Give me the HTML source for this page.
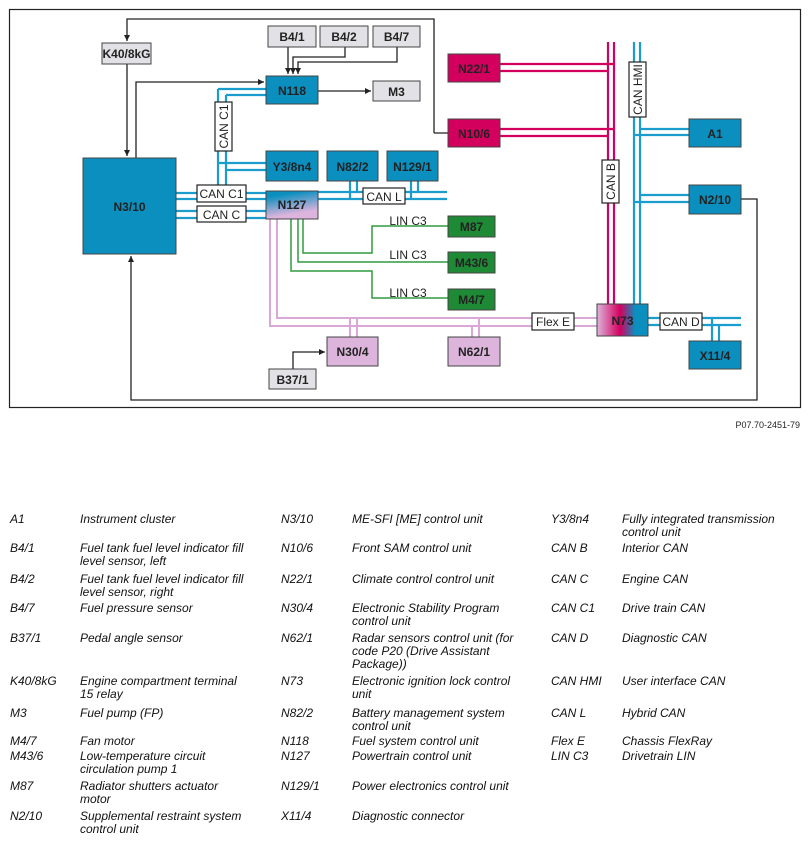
<!DOCTYPE html>
<html><head><meta charset="utf-8"><style>
body{margin:0;width:811px;height:843px;background:#fff;position:relative;font-family:"Liberation Sans",sans-serif;overflow:hidden}
.l{position:absolute;font-size:12px;font-style:italic;line-height:13px;color:#111;white-space:nowrap}
svg{position:absolute;left:0;top:0}
svg text{font-family:"Liberation Sans",sans-serif}
</style></head><body>
<svg width="811" height="440" viewBox="0 0 811 440">
<defs>
<marker id="a" markerWidth="8" markerHeight="8" refX="6" refY="3" orient="auto" markerUnits="userSpaceOnUse"><path d="M0,0 L6,3 L0,6 z" fill="#222"/></marker>
<linearGradient id="g127" x1="0" y1="0" x2="0.3" y2="1"><stop offset="0.2" stop-color="#0a8fbf"/><stop offset="0.9" stop-color="#dcb4dc"/></linearGradient>
<linearGradient id="g73" x1="0" y1="0" x2="1" y2="0"><stop offset="0" stop-color="#dcb4dc"/><stop offset="0.45" stop-color="#d4005e"/><stop offset="0.75" stop-color="#0a8fbf"/><stop offset="1" stop-color="#0a8fbf"/></linearGradient>
</defs>
<rect x="9.5" y="9.5" width="791" height="398" fill="#fff" stroke="#222" stroke-width="1.2"/>
<g fill="none" stroke="#d9a8d9" stroke-width="2">
<path d="M270 219V326H597M277 219V318H597"/>
<path d="M350 318V337M357 318V337M472 326V337M479 318V337"/>
</g>
<g fill="none" stroke="#2e9b3e" stroke-width="1.5">
<path d="M303 219V253H372V226H448"/>
<path d="M298 219V262H448"/>
<path d="M291 219V271H372V298H448"/>
</g>
<g fill="none" stroke="#d4005e" stroke-width="2.2">
<path d="M608 42V304M614 42V304"/>
<path d="M500 64H614M500 71H608M500 129H614M500 136H608"/>
</g>
<g fill="none" stroke="#1a9ccc" stroke-width="2.2">
<path d="M634 42V304M640 42V304"/>
<path d="M640 129H689M634 135H689M640 195H689M634 202H689"/>
<path d="M648 318H741M648 325H741M712 318V341M719 325V341"/>
<path d="M176 193H266M176 199H266M176 211H266M176 218H266"/>
<path d="M318 192H447M318 199H447"/>
<path d="M350 181V199M357 181V192M411 181V199M418 181V192"/>
<path d="M218 89V193M226 95V199M218 89H266M226 95H266M218 163H266M226 170H266"/>
</g>
<g fill="none" stroke="#222" stroke-width="1.3">
<path d="M434 133H448M434 133V19H127V41" marker-end="url(#a)"/>
<path d="M127 64V156" marker-end="url(#a)"/>
<path d="M136 158V82H264" marker-end="url(#a)"/>
<path d="M288 47V74" marker-end="url(#a)"/>
<path d="M345 47V57H293V74" marker-end="url(#a)"/>
<path d="M397 47V62H298V74" marker-end="url(#a)"/>
<path d="M318 91H371" marker-end="url(#a)"/>
<path d="M741 199H757V400H131V256" marker-end="url(#a)"/>
<path d="M293 369V352H325" marker-end="url(#a)"/>
</g>
<g stroke="#444" stroke-width="1" font-weight="bold" font-size="12" text-anchor="middle">
<rect x="102" y="43" width="49" height="21" fill="#e2e2e6"/><text x="126.5" y="58" stroke="none" fill="#222">K40/8kG</text>
<rect x="268" y="26" width="48" height="21" fill="#e2e2e6"/><text x="292" y="41" stroke="none" fill="#222">B4/1</text>
<rect x="320" y="26" width="48" height="21" fill="#e2e2e6"/><text x="344" y="41" stroke="none" fill="#222">B4/2</text>
<rect x="373" y="26" width="47" height="21" fill="#e2e2e6"/><text x="396.5" y="41" stroke="none" fill="#222">B4/7</text>
<rect x="373" y="81" width="47" height="20" fill="#e2e2e6"/><text x="396.5" y="96" stroke="none" fill="#222">M3</text>
<rect x="269" y="369" width="47" height="20" fill="#e2e2e6"/><text x="292.5" y="384" stroke="none" fill="#222">B37/1</text>
<rect x="266" y="76" width="52" height="28" fill="#0a8fbf"/><text x="292" y="95" stroke="none" fill="#222">N118</text>
<rect x="83" y="158" width="93" height="96" fill="#0a8fbf"/><text x="129.5" y="211" stroke="none" fill="#222">N3/10</text>
<rect x="266" y="151" width="52" height="30" fill="#0a8fbf"/><text x="292" y="171" stroke="none" fill="#222">Y3/8n4</text>
<rect x="327" y="151" width="51" height="30" fill="#0a8fbf"/><text x="352.5" y="171" stroke="none" fill="#222">N82/2</text>
<rect x="387" y="151" width="51" height="30" fill="#0a8fbf"/><text x="412.5" y="171" stroke="none" fill="#222">N129/1</text>
<rect x="266" y="191" width="52" height="28" fill="url(#g127)"/><text x="292" y="209" stroke="none" fill="#222">N127</text>
<rect x="448" y="54" width="52" height="28" fill="#d4005e"/><text x="474" y="73" stroke="none" fill="#222">N22/1</text>
<rect x="448" y="119" width="52" height="28" fill="#d4005e"/><text x="474" y="138" stroke="none" fill="#222">N10/6</text>
<rect x="689" y="119" width="52" height="28" fill="#0a8fbf"/><text x="715" y="138" stroke="none" fill="#222">A1</text>
<rect x="689" y="185" width="52" height="29" fill="#0a8fbf"/><text x="715" y="204" stroke="none" fill="#222">N2/10</text>
<rect x="689" y="341" width="52" height="28" fill="#0a8fbf"/><text x="715" y="360" stroke="none" fill="#222">X11/4</text>
<rect x="597" y="304" width="51" height="32" fill="url(#g73)"/><text x="622.5" y="325" stroke="none" fill="#222">N73</text>
<rect x="448" y="216" width="47" height="21" fill="#1f8a35"/><text x="471.5" y="231" stroke="none" fill="#222">M87</text>
<rect x="448" y="252" width="47" height="21" fill="#1f8a35"/><text x="471.5" y="267" stroke="none" fill="#222">M43/6</text>
<rect x="448" y="289" width="47" height="21" fill="#1f8a35"/><text x="471.5" y="304" stroke="none" fill="#222">M4/7</text>
<rect x="327" y="337" width="51" height="29" fill="#dcb4dc"/><text x="352.5" y="356" stroke="none" fill="#222">N30/4</text>
<rect x="448" y="337" width="52" height="29" fill="#dcb4dc"/><text x="474" y="356" stroke="none" fill="#222">N62/1</text>
</g>
<g stroke="#222" stroke-width="1.2" fill="#fff" font-size="12">
<rect x="197" y="185" width="49" height="17"/><text x="221.5" y="198" stroke="none" fill="#222" text-anchor="middle">CAN C1</text>
<rect x="197" y="206" width="49" height="16"/><text x="221.5" y="219" stroke="none" fill="#222" text-anchor="middle">CAN C</text>
<rect x="363" y="188" width="42" height="16"/><text x="384" y="201" stroke="none" fill="#222" text-anchor="middle">CAN L</text>
<rect x="532" y="313" width="42" height="17"/><text x="553" y="326" stroke="none" fill="#222" text-anchor="middle">Flex E</text>
<rect x="660" y="313" width="42" height="17"/><text x="681" y="326" stroke="none" fill="#222" text-anchor="middle">CAN D</text>
<rect x="215" y="102" width="17" height="49"/><text transform="translate(228,126.5) rotate(-90)" stroke="none" fill="#222" text-anchor="middle">CAN C1</text>
<rect x="629" y="62" width="17" height="55"/><text transform="translate(642,89.5) rotate(-90)" stroke="none" fill="#222" text-anchor="middle">CAN HMI</text>
<rect x="602" y="160" width="17" height="43"/><text transform="translate(615,181.5) rotate(-90)" stroke="none" fill="#222" text-anchor="middle">CAN B</text>
</g>
<g font-size="12" fill="#222" text-anchor="middle">
<text x="408" y="225">LIN C3</text><text x="408" y="259">LIN C3</text><text x="408" y="297">LIN C3</text>
</g>
<text x="800" y="428" font-size="9" fill="#222" text-anchor="end">P07.70-2451-79</text>
</svg>

<div class="l" style="left:10px;top:513px">A1</div><div class="l" style="left:80px;top:513px">Instrument cluster</div>
<div class="l" style="left:10px;top:542px">B4/1</div><div class="l" style="left:80px;top:542px">Fuel tank fuel level indicator fill<br>level sensor, left</div>
<div class="l" style="left:10px;top:573px">B4/2</div><div class="l" style="left:80px;top:573px">Fuel tank fuel level indicator fill<br>level sensor, right</div>
<div class="l" style="left:10px;top:602px">B4/7</div><div class="l" style="left:80px;top:602px">Fuel pressure sensor</div>
<div class="l" style="left:10px;top:632px">B37/1</div><div class="l" style="left:80px;top:632px">Pedal angle sensor</div>
<div class="l" style="left:10px;top:675px">K40/8kG</div><div class="l" style="left:80px;top:675px">Engine compartment terminal<br>15 relay</div>
<div class="l" style="left:10px;top:707px">M3</div><div class="l" style="left:80px;top:707px">Fuel pump (FP)</div>
<div class="l" style="left:10px;top:735px">M4/7</div><div class="l" style="left:80px;top:735px">Fan motor</div>
<div class="l" style="left:10px;top:750px">M43/6</div><div class="l" style="left:80px;top:750px">Low-temperature circuit<br>circulation pump 1</div>
<div class="l" style="left:10px;top:780px">M87</div><div class="l" style="left:80px;top:780px">Radiator shutters actuator<br>motor</div>
<div class="l" style="left:10px;top:810px">N2/10</div><div class="l" style="left:80px;top:810px">Supplemental restraint system<br>control unit</div>

<div class="l" style="left:281px;top:513px">N3/10</div><div class="l" style="left:352px;top:513px">ME-SFI [ME] control unit</div>
<div class="l" style="left:281px;top:542px">N10/6</div><div class="l" style="left:352px;top:542px">Front SAM control unit</div>
<div class="l" style="left:281px;top:573px">N22/1</div><div class="l" style="left:352px;top:573px">Climate control control unit</div>
<div class="l" style="left:281px;top:602px">N30/4</div><div class="l" style="left:352px;top:602px">Electronic Stability Program<br>control unit</div>
<div class="l" style="left:281px;top:632px">N62/1</div><div class="l" style="left:352px;top:632px">Radar sensors control unit (for<br>code P20 (Drive Assistant<br>Package))</div>
<div class="l" style="left:281px;top:675px">N73</div><div class="l" style="left:352px;top:675px">Electronic ignition lock control<br>unit</div>
<div class="l" style="left:281px;top:707px">N82/2</div><div class="l" style="left:352px;top:707px">Battery management system<br>control unit</div>
<div class="l" style="left:281px;top:735px">N118</div><div class="l" style="left:352px;top:735px">Fuel system control unit</div>
<div class="l" style="left:281px;top:750px">N127</div><div class="l" style="left:352px;top:750px">Powertrain control unit</div>
<div class="l" style="left:281px;top:780px">N129/1</div><div class="l" style="left:352px;top:780px">Power electronics control unit</div>
<div class="l" style="left:281px;top:810px">X11/4</div><div class="l" style="left:352px;top:810px">Diagnostic connector</div>

<div class="l" style="left:551px;top:513px">Y3/8n4</div><div class="l" style="left:622px;top:513px">Fully integrated transmission<br>control unit</div>
<div class="l" style="left:551px;top:542px">CAN B</div><div class="l" style="left:622px;top:542px">Interior CAN</div>
<div class="l" style="left:551px;top:573px">CAN C</div><div class="l" style="left:622px;top:573px">Engine CAN</div>
<div class="l" style="left:551px;top:602px">CAN C1</div><div class="l" style="left:622px;top:602px">Drive train CAN</div>
<div class="l" style="left:551px;top:632px">CAN D</div><div class="l" style="left:622px;top:632px">Diagnostic CAN</div>
<div class="l" style="left:551px;top:675px">CAN HMI</div><div class="l" style="left:622px;top:675px">User interface CAN</div>
<div class="l" style="left:551px;top:707px">CAN L</div><div class="l" style="left:622px;top:707px">Hybrid CAN</div>
<div class="l" style="left:551px;top:735px">Flex E</div><div class="l" style="left:622px;top:735px">Chassis FlexRay</div>
<div class="l" style="left:551px;top:750px">LIN C3</div><div class="l" style="left:622px;top:750px">Drivetrain LIN</div>
</body></html>
